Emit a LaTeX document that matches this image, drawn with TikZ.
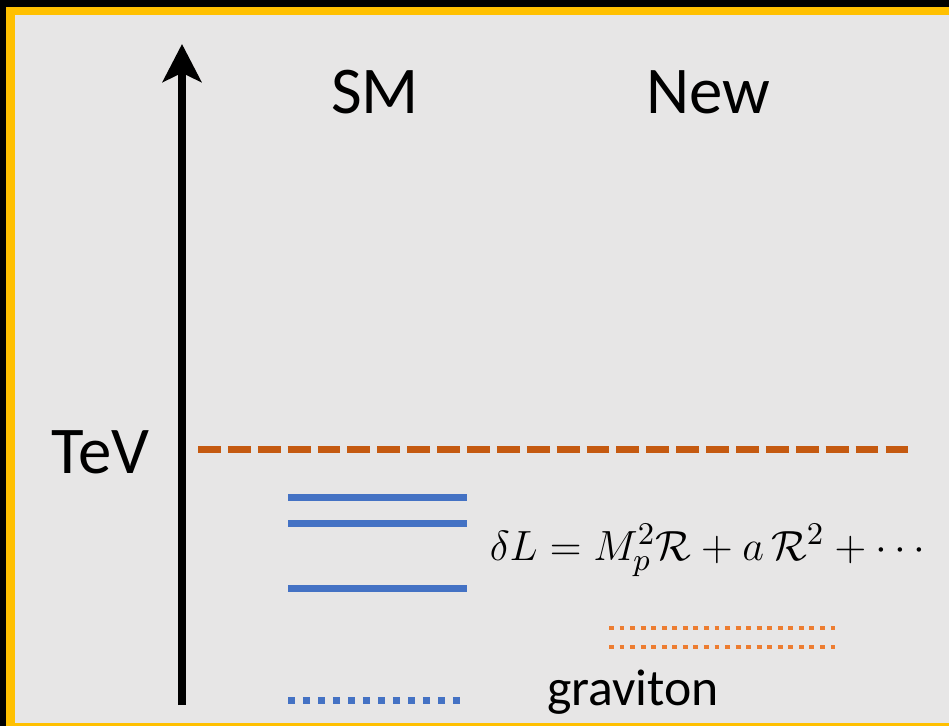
\documentclass[tikz,border=0pt]{standalone}
\usepackage{amsmath}
\usepackage{fontspec}
\setmainfont{Carlito}
\usepackage{tikz}
\usetikzlibrary{arrows.meta}
\definecolor{panelgray}{RGB}{231,230,230}
\definecolor{frameyellow}{RGB}{255,192,0}
\definecolor{smblue}{RGB}{68,114,196}
\definecolor{tevorange}{RGB}{197,90,17}
\definecolor{gravorange}{RGB}{237,125,49}

\begin{document}
\begin{tikzpicture}[x=0.01cm,y=-0.01cm,
  title/.style={font=\fontsize{19}{23}\selectfont,anchor=base,inner sep=0pt},
  smlevel/.style={line width=2pt,smblue},
  gravdots/.style={line width=1.4pt,gravorange,dash pattern=on 1.4pt off 1.6pt}]
\useasboundingbox (0,0) rectangle (949,726);
\fill[black] (0,0) rectangle (949,726);
\fill[frameyellow] (6,7) rectangle (949,726);
\fill[panelgray] (15,15) rectangle (960,723);
% energy axis
\coordinate (axisbot) at (182,705);
\coordinate (axistop) at (182,44);
\draw[line width=2pt,-{Stealth[length=10.8pt,width=11pt,inset=2.6pt]}] (axisbot) -- (axistop);
\node[title] (sm) at (375,113) {SM};
\node[title] (new) at (708,113) {New};
\node[title,anchor=base east] (tev) at (150,473) {TeV};
% TeV scale
\draw[line width=2pt,tevorange,dash pattern=on 6.5pt off 2pt] (198,449) -- (912,449);
% SM levels
\draw[smlevel] (288,497) -- (467,497);
\draw[smlevel] (288,523) -- (467,523);
\draw[smlevel] (288,588) -- (467,588);
\draw[smlevel,dash pattern=on 2pt off 2.26pt] (288,700) -- (464,700);
% new levels
\draw[gravdots] (609,628) -- (839,628);
\draw[gravdots] (609,647) -- (839,647);
\node[font=\fontsize{12.6}{15}\selectfont,anchor=base,inner sep=0pt] (action) at (711,560)
  {$\delta L = M_p^2\mathcal{R} + a\,\mathcal{R}^2 + \cdots$};
\node[font=\fontsize{14.7}{18}\selectfont,anchor=base,inner sep=0pt] (grav) at (633,705) {graviton};
\end{tikzpicture}
\end{document}
